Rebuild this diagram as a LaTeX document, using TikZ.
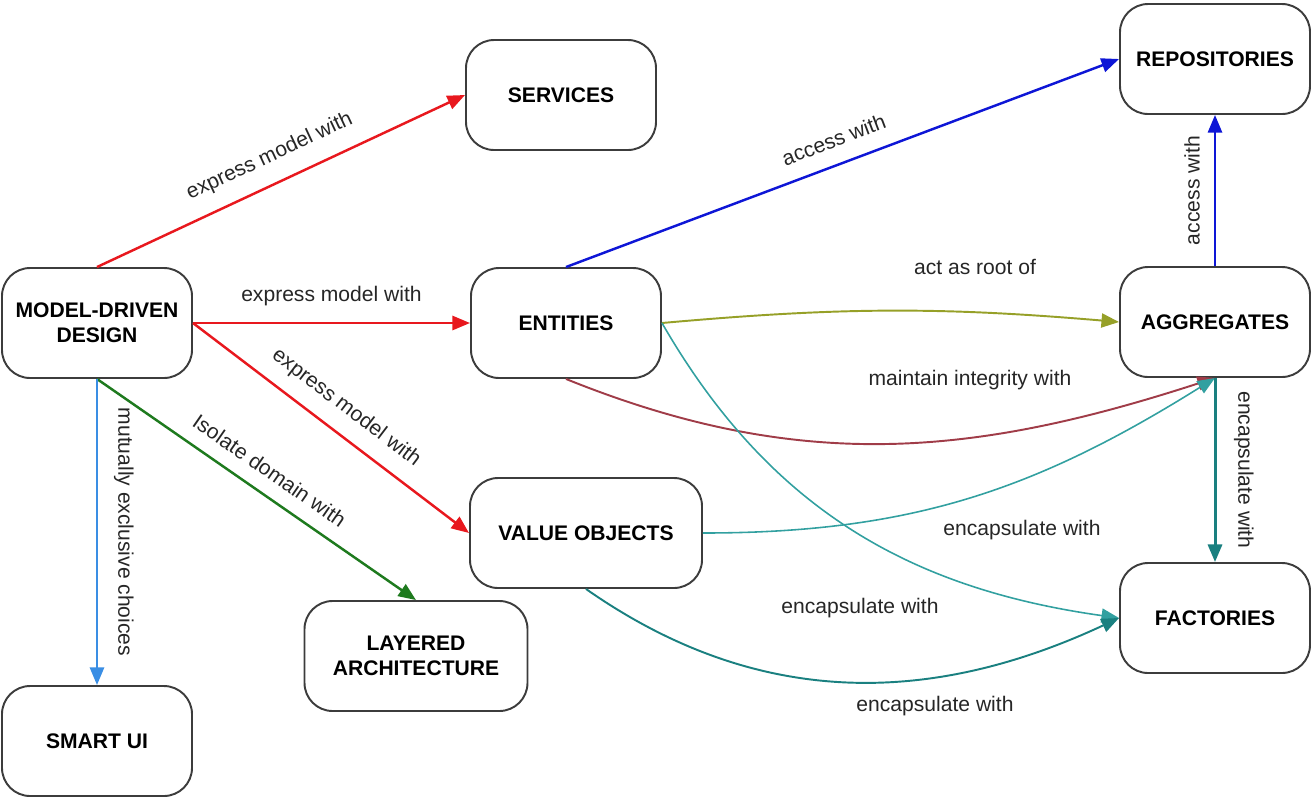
\documentclass[tikz,border=0pt]{standalone}
\usepackage{fontspec}
\setmainfont{Liberation Sans}
\usetikzlibrary{arrows.meta}

\definecolor{exred}{RGB}{232,24,30}
\definecolor{isogreen}{RGB}{30,122,30}
\definecolor{choiceblue}{RGB}{58,142,228}
\definecolor{accblue}{RGB}{14,22,214}
\definecolor{rootolive}{RGB}{150,160,40}
\definecolor{integred}{RGB}{160,60,72}
\definecolor{encteal}{RGB}{26,128,128}
\definecolor{encteallight}{RGB}{50,160,160}
\definecolor{boxgray}{RGB}{60,60,60}

\tikzstyle{concept} = [rectangle, rounded corners=16pt, draw=boxgray, line width=1.1pt, minimum width=3.8cm, minimum height=2.2cm, align=center, font=\fontsize{12}{14}\selectfont\bfseries]
\tikzstyle{arrow} = [line width=1.4pt, -{Triangle[length=10pt,width=8pt]}]
\tikzstyle{thinarrow} = [line width=0.9pt, -{Triangle[length=10pt,width=8pt]}]
\tikzstyle{lbl} = [font=\fontsize{12}{14}\selectfont, inner sep=0pt, text=black!85]

\begin{document}
\begin{tikzpicture}
            \useasboundingbox (0,0) rectangle (26.26,-15.98);

            \node (mdd)      [concept] at (1.94,-6.46)  {MODEL-DRIVEN\\DESIGN};
            \node (services) [concept] at (11.22,-1.9)  {SERVICES};
            \node (entities) [concept] at (11.32,-6.46) {ENTITIES};
            \node (valueobj) [concept, minimum width=4.64cm] at (11.72,-10.66) {VALUE OBJECTS};
            \node (layered)  [concept, minimum width=4.46cm] at (8.32,-13.12) {LAYERED\\ARCHITECTURE};
            \node (smartui)  [concept] at (1.94,-14.82) {SMART UI};
            \node (repos)    [concept] at (24.3,-1.18)  {REPOSITORIES};
            \node (aggr)     [concept] at (24.3,-6.44)  {AGGREGATES};
            \node (factory)  [concept] at (24.3,-12.36) {FACTORIES};

            % model-driven design
            \draw [arrow, exred] (mdd.north) -- node[lbl, sloped, above=9pt] {express model with} (services.west);
            \draw [arrow, exred] (mdd.east) -- node[lbl, above=9pt] {express model with} (entities.west);
            \draw [arrow, exred] (mdd.east) -- node[lbl, sloped, above=8pt] {express model with} (valueobj.west);
            \draw [arrow, isogreen] (mdd.south) -- node[lbl, sloped, above=8pt] {Isolate domain with} (layered.north);
            \draw [arrow, choiceblue] (mdd.south) -- node[lbl, sloped, above=9pt] {mutually exclusive choices} (smartui.north);

            % access
            \draw [arrow, accblue] (entities.north) -- node[lbl, sloped, above=9pt] {access with} (repos.west);
            \draw [arrow, accblue] (aggr.north) -- node[lbl, sloped, above=8pt] {access with} (repos.south);

            % aggregates
            \draw [arrow, rootolive, line width=1.1pt] (entities.east) to[bend left=5] (aggr.west);
            \node (rootlbl) [lbl] at (19.5,-5.34) {act as root of};
            \draw [arrow, integred, line width=1.1pt] (entities.south) to[out=-22, in=198] (aggr.south);
            \node (integlbl) [lbl] at (19.4,-7.6) {maintain integrity with};

            % factories
            \draw [thinarrow, encteallight] (valueobj.east) to[out=0, in=212] (aggr.south);
            \node (enclbla) [lbl] at (20.44,-10.6) {encapsulate with};
            \draw [thinarrow, encteallight] (entities.east) to[out=-60, in=172] (factory.west);
            \node (enclblb) [lbl] at (17.2,-12.16) {encapsulate with};
            \draw [thinarrow, encteal, line width=1.1pt] (valueobj.south) to[out=-35, in=205] (factory.west);
            \node (enclblc) [lbl] at (18.7,-14.12) {encapsulate with};
            \draw [arrow, encteal, line width=1.7pt] (aggr.south) -- node[lbl, sloped, above=10pt] {encapsulate with} (factory.north);
        \end{tikzpicture}
\end{document}
